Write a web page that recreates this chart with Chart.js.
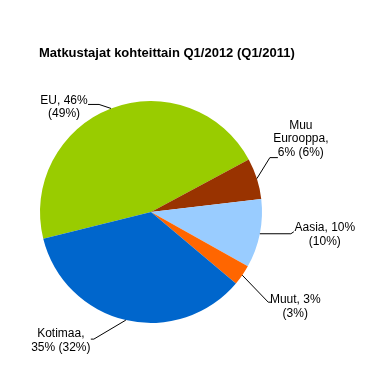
<!DOCTYPE html>
<html>
<head>
<meta charset="utf-8">
<script src="https://cdn.jsdelivr.net/npm/chart.js@4"></script>
<style>
  html, body { margin: 0; padding: 0; background: #fff; }
  #wrap { width: 368px; height: 382px; }
</style>
</head>
<body>
<div id="wrap"><canvas id="tripChart"></canvas></div>
<script>
const chartTitle = 'Matkustajat kohteittain Q1/2012 (Q1/2011)';
const categories = ['EU', 'Muu Eurooppa', 'Aasia', 'Muut', 'Kotimaa'];
const share2012 = [46, 6, 10, 3, 35];
const share2011 = [49, 6, 10, 3, 32];
const sliceColors = ['#99cc00', '#993300', '#99ccff', '#ff6600', '#0066cc'];

// label placement relative to the slice edge point: elbow, tail, first text line centre, wrap width
const labelLayout = [
  { elbow: [-12, -4], tail: [-23, -4], text: [-47, -8], wrap: 55 },
  { elbow: [13, -21], tail: [21, -21], text: [44, -53], wrap: 60 },
  { elbow: [31, 0], tail: [34, -2], text: [65, -6], wrap: 64 },
  { elbow: [26, 27], tail: [29, 27], text: [53, 24.5], wrap: 60 },
  { elbow: [-32, 19], tail: [-35, 19], text: [-65, 14], wrap: 62 }
];

function wrapText(ctx, str, maxW) {
  const words = str.split(' ');
  const lines = [];
  let cur = '';
  words.forEach(w => {
    const test = cur ? cur + ' ' + w : w;
    if (cur && ctx.measureText(test).width > maxW) {
      lines.push(cur);
      cur = w;
    } else {
      cur = test;
    }
  });
  if (cur) lines.push(cur);
  return lines;
}

const sliceLabels = {
  id: 'sliceLabels',
  afterDatasetsDraw(chart) {
    const ctx = chart.ctx;
    const meta = chart.getDatasetMeta(0);
    ctx.save();

    // title
    ctx.font = 'bold 13px "Liberation Sans", Arial, sans-serif';
    ctx.textAlign = 'left';
    ctx.textBaseline = 'middle';
    ctx.fillStyle = '#000';
    ctx.fillText(chartTitle, 39, 53);

    ctx.font = '12px "Liberation Sans", Arial, sans-serif';
    ctx.textAlign = 'center';
    ctx.strokeStyle = '#000';
    ctx.lineWidth = 1;
    meta.data.forEach((arc, i) => {
      const p = arc.getProps(['x', 'y', 'startAngle', 'endAngle', 'outerRadius'], true);
      const mid = (p.startAngle + p.endAngle) / 2;
      const ex = p.x + Math.cos(mid) * p.outerRadius;
      const ey = p.y + Math.sin(mid) * p.outerRadius;
      const lay = labelLayout[i];
      ctx.beginPath();
      ctx.moveTo(ex, ey);
      ctx.lineTo(ex + lay.elbow[0], ey + lay.elbow[1]);
      ctx.lineTo(ex + lay.tail[0], ey + lay.tail[1]);
      ctx.stroke();
      const str = categories[i] + ', ' + share2012[i] + '% (' + share2011[i] + '%)';
      const lines = wrapText(ctx, str, lay.wrap);
      lines.forEach((ln, k) => {
        ctx.fillText(ln, ex + lay.text[0], ey + lay.text[1] + k * 13.5);
      });
    });
    ctx.restore();
  }
};

const ctx = document.getElementById('tripChart').getContext('2d');
const tripChart = new Chart(ctx, {
  type: 'pie',
  data: {
    labels: categories,
    datasets: [{
      data: share2012,
      backgroundColor: sliceColors,
      borderWidth: 0
    }]
  },
  options: {
    responsive: true,
    maintainAspectRatio: false,
    animation: false,
    rotation: 256.1,
    layout: {
      padding: { left: 40, right: 106, top: 101, bottom: 59 }
    },
    plugins: {
      legend: { display: false },
      tooltip: { enabled: false },
      title: { display: false }
    }
  },
  plugins: [sliceLabels]
});
</script>
</body>
</html>
